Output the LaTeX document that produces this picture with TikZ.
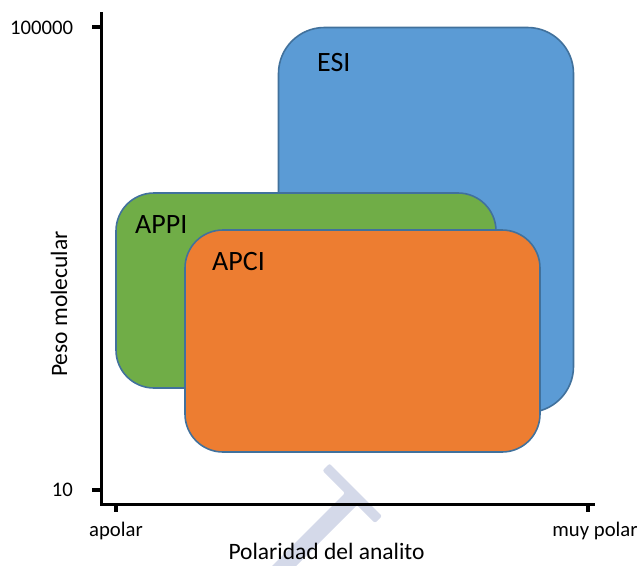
\documentclass[tikz,border=0pt]{standalone}
\usepackage{fontspec}
\setmainfont{Carlito}
\definecolor{esiblue}{HTML}{5B9BD5}
\definecolor{appigreen}{HTML}{70AD47}
\definecolor{apciorange}{HTML}{ED7D31}
\definecolor{boxedge}{HTML}{41719C}
\definecolor{marca}{RGB}{212,217,233}
\begin{document}
\begin{tikzpicture}[%
            x=1pt, y=-1pt,
            myregion/.style={draw=boxedge, line width=1.6pt},
            myaxis/.style={line width=3pt},
            mytick/.style={line width=4pt},
            ticklab/.style={inner sep=0pt, font=\fontsize{20.7}{24}\selectfont},
            axislab/.style={inner sep=0pt, font=\fontsize{23.5}{28}\selectfont},
            regionlab/.style={inner sep=0pt, anchor=base west, font=\fontsize{28}{32}\selectfont}
    ]
        \useasboundingbox (0,0) rectangle (642,565);

        % faint watermark behind the chart
        \begin{scope}
            \clip (0,0) rectangle (642,565);
            \fill [marca, rounded corners=2pt]
                (329.5,463.5) -- (382,516) -- (375,523) -- (357,505)
                -- (262,600) -- (238,600) -- (345,493) -- (322.5,470.5) -- cycle;
        \end{scope}

        % regions
        \filldraw [myregion, fill=esiblue, rounded corners=46pt]
            (278.5,27.5) rectangle (573.5,412.5);
        \filldraw [myregion, fill=appigreen, rounded corners=38pt]
            (116,193) rectangle (496,388);
        \filldraw [myregion, fill=apciorange, rounded corners=38pt]
            (185,230) rectangle (540,452);

        \path (317,71) node [regionlab] (esi) {ESI};
        \path (135,233) node [regionlab] (appi) {APPI};
        \path (212,270) node [regionlab] (apci) {APCI};

        % axes
        \draw [myaxis] (101,12) -- (101,504) -- (595,504);
        \draw [mytick] (92,27) -- (101,27);
        \draw [mytick] (92,490) -- (101,490);
        \draw [mytick] (116,504) -- (116,512);
        \draw [mytick] (588,504) -- (588,512);

        \path (41.5,28.3) node [ticklab] (ymax) {100000};
        \path (73,490) node [ticklab, anchor=east] (ymin) {10};
        \path (116,536) node [ticklab, anchor=base] (xmin) {apolar};
        \path (595,536) node [ticklab, anchor=base] (xmax) {muy polar};

        \path (326.5,559) node [axislab, anchor=base] (xtitle) {Polaridad del analito};
        \path (67,304) node [axislab, anchor=base, rotate=90] (ytitle) {Peso molecular};
    \end{tikzpicture}
\end{document}
